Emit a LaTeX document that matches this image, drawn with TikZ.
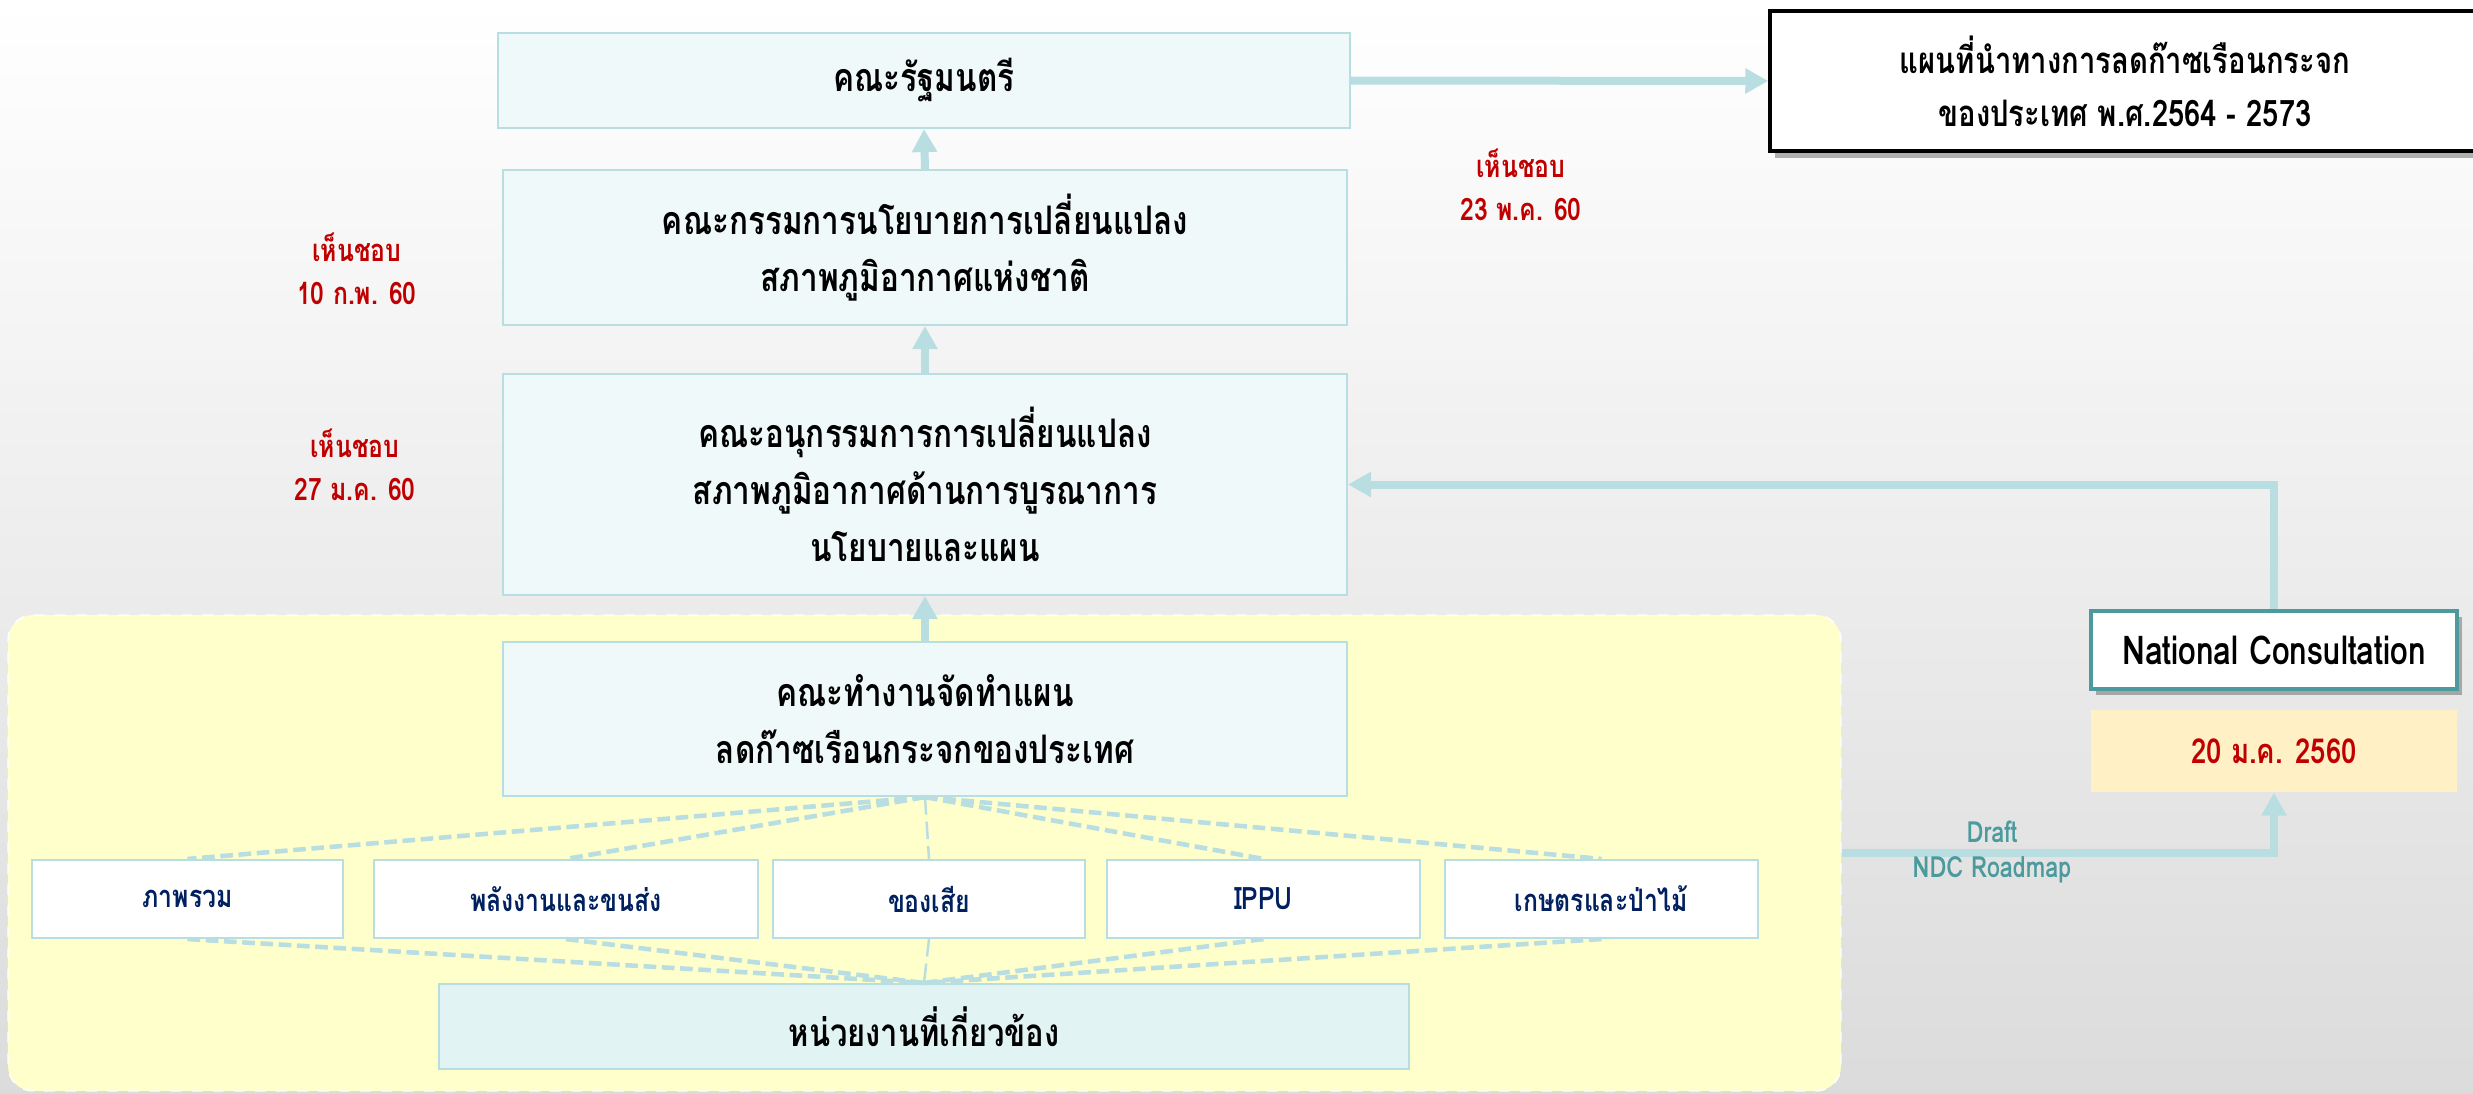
\documentclass[tikz,border=0pt]{standalone}
\usepackage{fontspec}
\setmainfont{Loma}[Script=Thai, FakeStretch=0.8]
\usepackage{tikz}
\usetikzlibrary{
    arrows.meta,
    positioning,
    shadows
}
\definecolor{tikzcyan}{RGB}{184,222,226}
\definecolor{tikzpale}{RGB}{240,249,249}
\definecolor{tikzice}{RGB}{226,243,243}
\definecolor{tikzred}{RGB}{192,0,0}
\definecolor{tikznavy}{RGB}{0,32,96}
\definecolor{tikzteal}{RGB}{74,154,158}
\definecolor{tikzcream}{RGB}{255,240,198}
\definecolor{tikzlemon}{RGB}{255,255,204}
\tikzset{
    % Box styles
    board box/.style={
        draw=tikzcyan,
        fill=tikzpale,
        line width=0.6pt,
        rectangle,
        inner sep=0pt,
        minimum width=8.44cm,
        align=center,
        font=\bfseries\fontsize{11.2}{16.2}\selectfont
    },
    sector box/.style={
        draw=tikzcyan,
        fill=white,
        line width=0.6pt,
        rectangle,
        inner sep=0pt,
        minimum height=0.78cm,
        align=center,
        text=tikznavy,
        font=\bfseries\fontsize{8.8}{11}\selectfont
    },
    side box/.style={
        draw=tikzteal,
        fill=white,
        line width=1pt,
        rectangle,
        inner sep=0pt,
        minimum width=3.66cm,
        minimum height=0.78cm,
        drop shadow={shadow xshift=0.05cm, shadow yshift=-0.06cm, fill=black!60, opacity=0.5},
        font=\bfseries\fontsize{11.3}{13}\selectfont
    },
    % Text styles
    approval/.style={
        text=tikzred,
        align=center,
        font=\bfseries\fontsize{8.8}{12.2}\selectfont
    },
    draft text/.style={
        text=tikzteal,
        font=\bfseries\fontsize{8.3}{10}\selectfont
    },
    % Arrow styles
    flow arrow/.style={
        -{Triangle[length=2.3mm,width=2.4mm]},
        line width=0.8mm,
        tikzcyan
    },
    member link/.style={
        tikzcyan,
        line width=1.3pt,
        dash pattern=on 3.6pt off 1.6pt
    },
    waste link/.style={
        tikzcyan,
        line width=0.7pt,
        dash pattern=on 5pt off 2pt
    }
}

\begin{document}
\begin{tikzpicture}
        \clip (0,0) rectangle (24.73,-10.94);
        \shade[top color=white, bottom color=gray!28] (0,0) rectangle (24.73,-10.94);

        % Working group panel
        \node[draw=white, dashed, fill=tikzlemon, rounded corners=0.25cm, minimum width=18.33cm, minimum height=4.76cm] at (9.245,-8.53) (panel) {};

        % Committees
        \node[board box, minimum width=8.52cm, minimum height=0.95cm] at (9.24,-0.805) (cabinet) {คณะรัฐมนตรี};
        \node[board box, minimum height=1.55cm] at (9.25,-2.475) (policy) {คณะกรรมการนโยบายการเปลี่ยนแปลง\\สภาพภูมิอากาศแห่งชาติ};
        \node[board box, minimum height=2.21cm] at (9.25,-4.845) (subcom) {คณะอนุกรรมการการเปลี่ยนแปลง\\สภาพภูมิอากาศด้านการบูรณาการ\\นโยบายและแผน};
        \node[board box, minimum height=1.54cm] at (9.25,-7.19) (working) {คณะทำงานจัดทำแผน\\ลดก๊าซเรือนกระจกของประเทศ};

        % Sectors
        \foreach \name/\x/\w/\txt in {overview/1.875/3.11/ภาพรวม,energy/5.66/3.84/พลังงานและขนส่ง,waste/9.29/3.12/ของเสีย,ippu/12.635/3.13/IPPU,agri/16.015/3.13/เกษตรและป่าไม้} {
            \node[sector box, minimum width=\w cm] at (\x,-8.99) (\name) {\txt};
        }
        \node[sector box, fill=tikzice, text=black, minimum width=9.70cm, minimum height=0.85cm, font=\bfseries\fontsize{11}{13}\selectfont] at (9.24,-10.265) (agencies) {หน่วยงานที่เกี่ยวข้อง};

        % Sector links
        \foreach \name in {overview,energy,ippu,agri} {
            \draw[member link] (working.south) -- (\name.north);
            \draw[member link] (\name.south) -- (agencies.north);
        }
        \draw[waste link] (working.south) -- (waste.north);
        \draw[waste link] (waste.south) -- (agencies.north);

        % Roadmap and consultation
        \node[board box, draw=black, fill=white, line width=1pt, minimum width=7.1cm, minimum height=1.40cm, font=\bfseries\fontsize{10.4}{15}\selectfont, drop shadow={shadow xshift=0.05cm, shadow yshift=-0.07cm, fill=black!60, opacity=0.5}] at (21.25,-0.81) (roadmap) {แผนที่นำทางการลดก๊าซเรือนกระจก\\ของประเทศ พ.ศ.2564 - 2573};
        \node[side box] at (22.74,-6.50) (nc) {National Consultation};
        \node[fill=tikzcream, text=tikzred, minimum width=3.66cm, minimum height=0.82cm, inner sep=0pt, font=\bfseries\fontsize{9.8}{12}\selectfont] at (22.74,-7.51) (date) {20 ม.ค. 2560};

        % Approvals
        \node[approval] at (3.57,-2.685) (ok1) {เห็นชอบ\\10 ก.พ. 60};
        \node[approval] at (3.55,-4.65) (ok2) {เห็นชอบ\\27 ม.ค. 60};
        \node[approval] at (15.21,-1.845) (ok3) {เห็นชอบ\\23 พ.ค. 60};

        % Flow
        \draw[flow arrow] (working.north) -- (subcom.south);
        \draw[flow arrow] (subcom.north) -- (policy.south);
        \draw[flow arrow] (policy.north) -- (cabinet.south);
        \draw[flow arrow] (cabinet.east) -- (roadmap.west);
        \draw[flow arrow] (nc.north) |- (subcom.east);
        \draw[flow arrow] (panel.east) -| (date.south);
        \node[draft text] at (19.92,-8.32) (draft) {Draft};
        \node[draft text] at (19.92,-8.70) (ndc) {NDC Roadmap};
    \end{tikzpicture}
\end{document}
